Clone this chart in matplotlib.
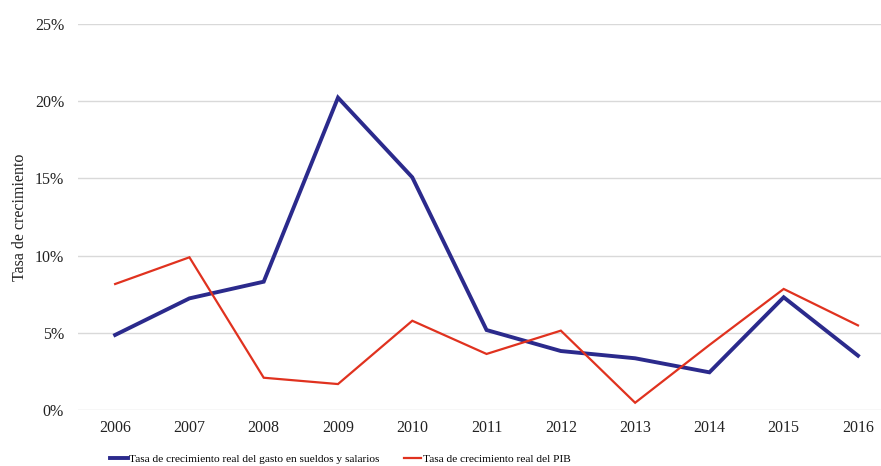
import numpy as np
import matplotlib.pyplot as plt
from matplotlib.ticker import FuncFormatter

plt.rcParams['font.family'] = ['Liberation Serif', 'DejaVu Serif']

years = ['2006', '2007', '2008', '2009', '2010', '2011',
         '2012', '2013', '2014', '2015', '2016']
gasto_sueldos = [4.86, 7.23, 8.31, 20.23, 15.07, 5.18, 3.82, 3.35, 2.44, 7.30, 3.52]
pib = [8.16, 9.89, 2.09, 1.68, 5.78, 3.63, 5.14, 0.47, 4.21, 7.84, 5.48]

lbl_gasto = 'Tasa de crecimiento real del gasto en sueldos y salarios'
lbl_pib = 'Tasa de crecimiento real del PIB'

fig = plt.figure(figsize=(8.81, 4.66), dpi=100)
ax = fig.add_axes([78 / 881, 56 / 466, 803 / 881, 386 / 466])

x = np.arange(len(years))
ax.plot(x, gasto_sueldos, color='#2b2a8c', lw=2.8, label=lbl_gasto,
        solid_joinstyle='miter')
ax.plot(x, pib, color='#e0321f', lw=1.6, label=lbl_pib,
        solid_joinstyle='miter')

ax.set_xlim(-0.5, 10.31)
ax.set_ylim(0, 25)
ax.set_yticks([0, 5, 10, 15, 20, 25])
ax.yaxis.set_major_formatter(FuncFormatter(lambda v, p: f'{v:.0f}%'))
ax.set_xticks(x)
ax.set_xticklabels(years)

ax.grid(axis='y', color='#d9d9d9', lw=1)
ax.set_axisbelow(True)
for s in ax.spines.values():
    s.set_visible(False)
ax.tick_params(length=0, labelsize=11.5, colors='#222222')
ax.tick_params(axis='y', pad=10)
ax.tick_params(axis='x', pad=7)

ax.set_ylabel('Tasa de crecimiento', fontsize=11.5, color='#222222')
ax.yaxis.set_label_coords(-0.062, 0.5)

fig.legend(loc='center left', bbox_to_anchor=(110 / 881, 7 / 466), ncol=2,
           frameon=False, fontsize=8.2, handlelength=1.55, handletextpad=0.15,
           columnspacing=2.1, borderpad=0, borderaxespad=0)

fig.savefig('out.png', dpi=100)
